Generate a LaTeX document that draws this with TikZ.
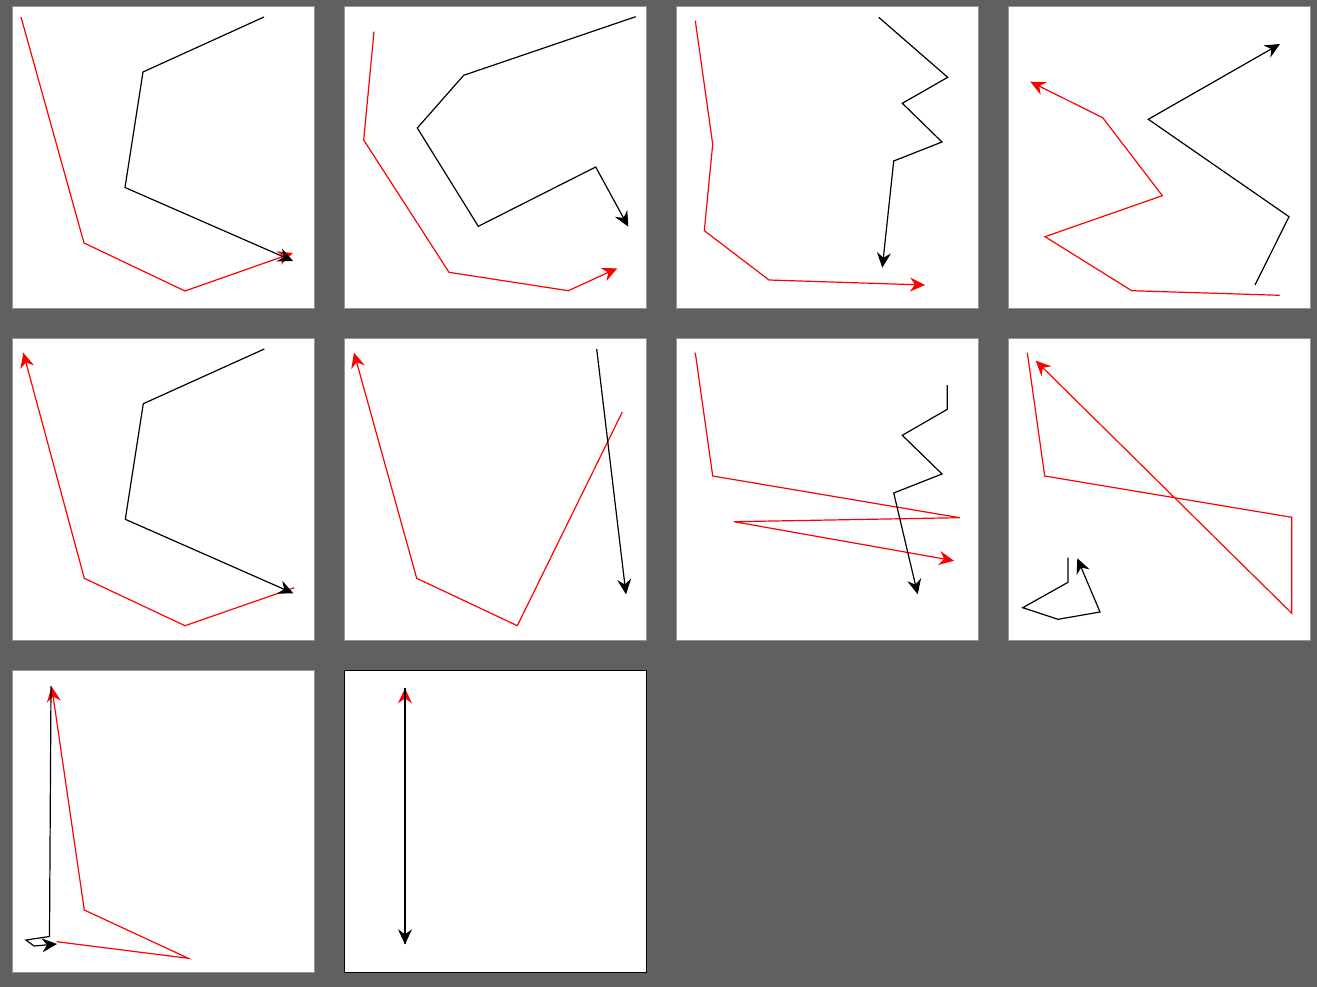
\documentclass[tikz,border=0pt]{standalone}
\usetikzlibrary{arrows.meta}
\definecolor{bgc}{RGB}{96,96,96}
\definecolor{pborder}{RGB}{150,150,150}
\begin{document}
\begin{tikzpicture}[x=1pt,y=-1pt,
  panelbox/.style={fill=white,draw=pborder,line width=1pt},
  redline/.style={draw=red,line width=1.2pt,line join=miter},
  blkline/.style={draw=black,line width=1.2pt,line join=miter},
  tipped/.style={-{Stealth[length=15pt,width=14pt,inset=5pt]}}]
\fill[bgc] (0,0) rectangle (1317,987);
\useasboundingbox (0,0) rectangle (1317,987);
% panels
\foreach \i/\j in {0/0,1/0,2/0,3/0,0/1,1/1,2/1,3/1,0/2}{
  \draw[panelbox] ({12.3+332*\i},{6.5+332*\j}) rectangle ++(302,302);
}
\draw[fill=white,draw=black,line width=1pt] (344.3,670.7) rectangle ++(302,302);
% P1
\draw[redline,tipped] (21,17)--(84,243)--(185,291)--(293,253);
\draw[blkline,tipped] (264,17)--(143,72)--(125,187.5)--(293,261);
% P2
\draw[redline,tipped] (374,31.7)--(363.7,140)--(449,272.3)--(568.3,290.7)--(617.3,268.3);
\draw[blkline,tipped] (635.7,16.7)--(463.7,75.3)--(417.3,128)--(478.3,226.3)--(595.7,167)--(628.3,226.7);
% P3
\draw[redline,tipped] (695.3,20.7)--(712.7,144.3)--(704.3,230.7)--(769,280)--(925,285);
\draw[blkline,tipped] (878.7,17.3)--(947.7,77.3)--(902.3,103.3)--(942,142)--(893.7,161)--(882.3,267.7);
% P4
\draw[redline,tipped] (1279.7,295.3)--(1131.7,290.7)--(1045,236.7)--(1162.3,195.7)--(1102.7,117.7)--(1030.3,81.7);
\draw[blkline,tipped] (1255,285)--(1289,216.7)--(1148.3,119.3)--(1280,44);
% P5
\draw[redline,tipped] (294.3,587.7)--(185,625.7)--(84.3,578.3)--(23.3,352.7);
\draw[blkline,tipped] (264.3,349)--(143.3,403.7)--(125.3,519.3)--(293.3,593.3);
% P6
\draw[redline,tipped] (622.3,412)--(517.3,625.7)--(416.7,578.3)--(354,352.7);
\draw[blkline,tipped] (596.7,349)--(626,594.3);
% P7
\draw[redline,tipped] (695.3,352.7)--(712.7,476)--(959.7,517.7)--(734,521.7)--(954,560.7);
\draw[blkline,tipped] (947.3,385)--(947.3,409.3)--(902.3,435.3)--(942,474)--(893.7,493)--(917.7,594.3);
% P8
\draw[redline,tipped] (1027.3,352.7)--(1044.7,476)--(1291.7,517.3)--(1291.7,613.3)--(1035.7,360.7);
\draw[blkline,tipped] (1068,557.7)--(1068,582.3)--(1022.7,607.7)--(1058,619.3)--(1100,612)--(1077.3,558.3);
% P9
\draw[redline,tipped] (56.7,941.7)--(188.3,958.3)--(84.3,910)--(51.7,686.7);
\draw[blkline,tipped] (51,686)--(49.5,936.5)--(26,940)--(34,946)--(57,944);
% P10
\draw[redline,tipped] (405,944.3)--(405,688.3);
\draw[blkline,tipped] (405,688.3)--(405,944.3);
\end{tikzpicture}
\end{document}
